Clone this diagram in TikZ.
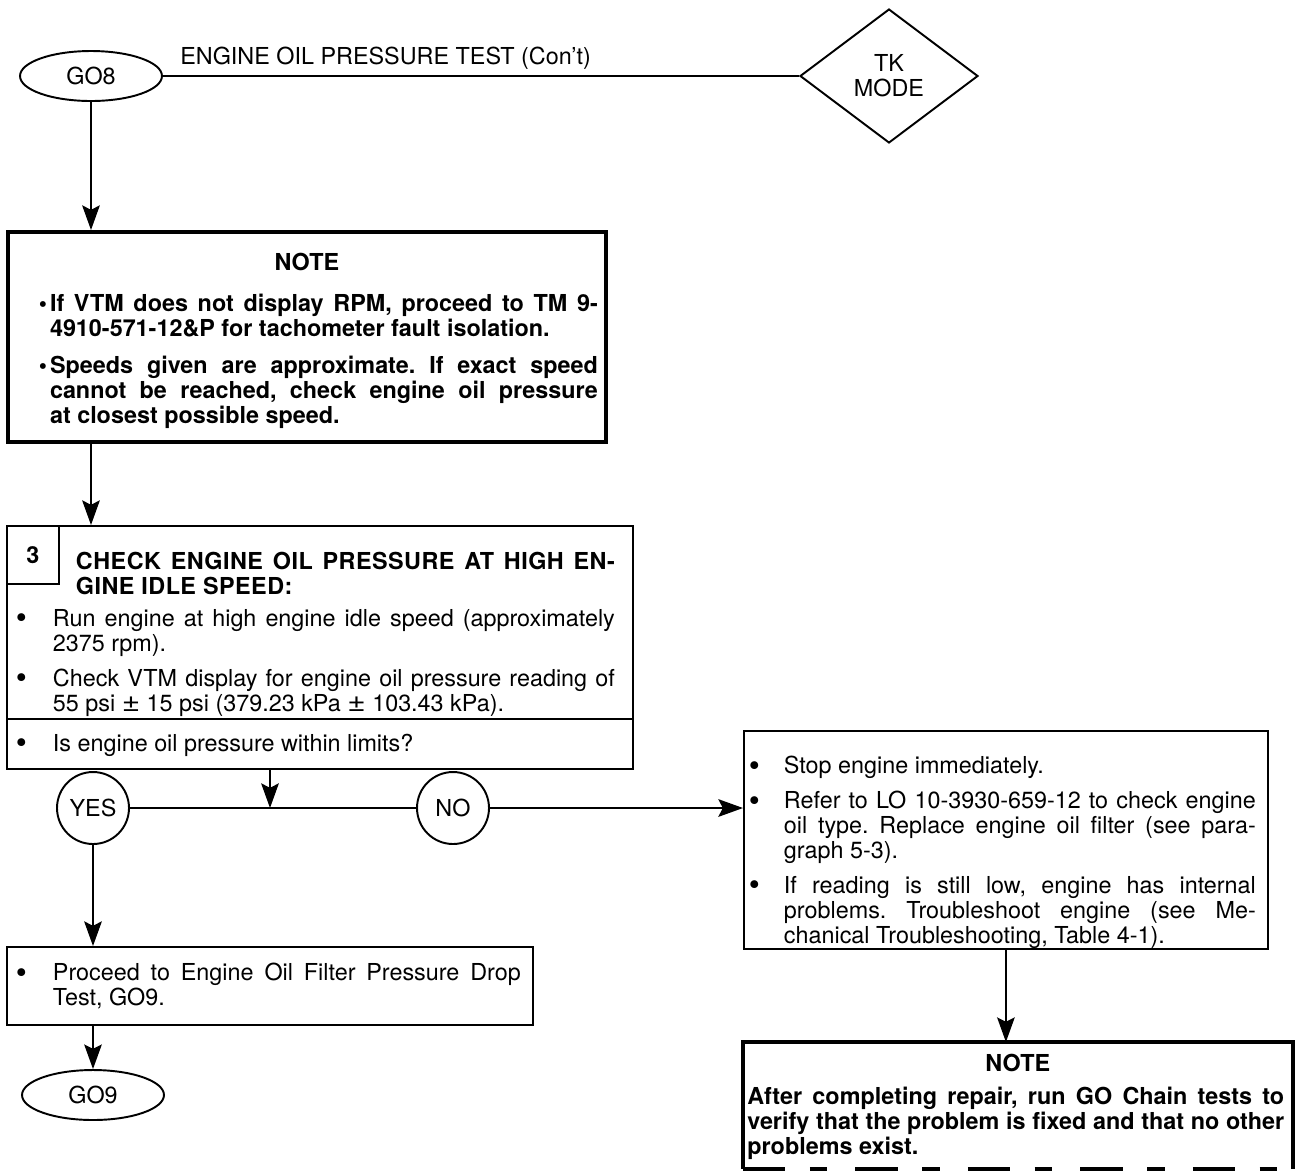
\documentclass[tikz,border=0pt]{standalone}
\usepackage{fontspec}
\usepackage{graphicx}
\setmainfont{TeX Gyre Heros}
\usetikzlibrary{shapes.geometric, arrows.meta, positioning, calc}
\tikzset{
  term/.style={ellipse, draw, line width=1.1pt, minimum width=2.84cm, minimum height=1.0cm, inner sep=0pt},
  answer/.style={circle, draw, line width=1.1pt, minimum size=1.44cm, inner sep=0pt},
  modebox/.style={diamond, draw, line width=1.1pt, minimum width=3.56cm, minimum height=2.68cm,
    inner sep=0pt, align=center},
  notebox/.style={rectangle, draw, line width=2.3pt, inner sep=0pt, anchor=north west},
  stepbox/.style={rectangle, draw, line width=1.1pt, inner sep=0pt, anchor=north west},
  arrow/.style={line width=1.1pt, -{Stealth[length=14pt, width=10pt, inset=2.5pt]}},
  flow/.style={line width=1.1pt},
}
% text block of a box: width, height, content (top aligned)
\newcommand{\boxtext}[3]{\parbox[c][#2][t]{#1}{\parindent=0pt\frenchspacing
  \hyphenpenalty=10000\exhyphenpenalty=10000 #3}}
% bullet hung left of the text column
\newcommand{\bul}[1]{\par\noindent\llap{\textbullet\hspace{#1}}}
\newcommand{\bigbul}[1]{\par\noindent\llap{\raisebox{-0.22ex}{\scalebox{1.35}{\textbullet}}\hspace{#1}}}
\newcommand{\plusminus}{\scalebox{1.35}[1.15]{±}}

\begin{document}
\begin{tikzpicture}[x=0.02cm, y=-0.02cm, font=\fontsize{13.3}{14.2}\selectfont]
  \useasboundingbox (0,0) rectangle (1295,1171);

  % --- Cabecera: GO8 y modo TK ---
  \node (go8)   [term]    at (91,76)  {GO8};
  \node (title) [anchor=base west, inner sep=0pt] at (180,64) {ENGINE OIL PRESSURE TEST (Con't)};
  \node (tk)    [modebox] at (889,76) {TK\\MODE};
  \draw[flow] (go8) -- (tk);

  % --- Nota inicial ---
  \node (note1) [notebox, minimum width=11.96cm, minimum height=4.2cm] at (6,230)
    {\boxtext{11.96cm}{4.2cm}{\bfseries\leftskip=0.84cm \rightskip=0.16cm
      \vspace*{0.42cm}{\centering NOTE\par}
      \vspace{0.32cm}\bul{0.06cm}If VTM does not display RPM, proceed to TM 9-\linebreak
        4910-571-12\&P for tachometer fault isolation.\par
      \vspace{0.24cm}\bul{0.06cm}Speeds given are approximate. If exact speed\linebreak
        cannot be reached, check engine oil pressure\linebreak at closest possible speed.\par}};

  % --- Paso 3 ---
  \node (chk) [stepbox, minimum width=12.52cm, minimum height=3.86cm] at (6,525)
    {\boxtext{12.52cm}{3.86cm}{\vspace*{0.52cm}
      {\bfseries\addfontfeatures{LetterSpace=2}\leftskip=1.38cm \rightskip=0.36cm
        CHECK ENGINE OIL PRESSURE AT HIGH EN-\linebreak GINE IDLE SPEED:\par}
      \leftskip=0.92cm \rightskip=0.36cm
      \vspace{0.14cm}\bigbul{0.52cm}Run engine at high engine idle speed (approximately\linebreak
        2375 rpm).\par
      \vspace{0.2cm}\bigbul{0.52cm}Check VTM display for engine oil pressure reading of\linebreak
        55 psi \plusminus{} 15 psi (379.23 kPa \plusminus{} 103.43 kPa).\par}};
  \node (num) [stepbox, minimum width=1.04cm, minimum height=1.16cm] at (6,525) {\bfseries 3};
  \node (lim) [stepbox, minimum width=12.52cm, minimum height=1.0cm] at (6,718)
    {\boxtext{12.52cm}{1.0cm}{\vspace*{0.3cm}\leftskip=0.92cm \rightskip=0.36cm
      \bigbul{0.52cm}Is engine oil pressure within limits?\par}};

  \draw[arrow] (go8) -- (go8 |- note1.north);
  \draw[arrow] (note1.south -| go8) -- (go8 |- chk.north);

  % --- Decision ---
  \coordinate (split) at (270,808);
  \node (yes) [answer] at (93,808)  {YES};
  \node (no)  [answer] at (453,808) {NO};
  \draw[arrow] (lim.south -| split) -- (split);
  \draw[flow]  (yes) -- (no);

  % --- Rama NO ---
  \node (stop) [stepbox, minimum width=10.48cm, minimum height=4.36cm] at (743,730)
    {\boxtext{10.48cm}{4.36cm}{\leftskip=0.8cm \rightskip=0.24cm
      \vspace*{0.5cm}\bigbul{0.48cm}Stop engine immediately.\par
      \vspace{0.2cm}\bigbul{0.48cm}Refer to LO 10-3930-659-12 to check engine\linebreak
        oil type. Replace engine oil filter (see para-\linebreak graph 5-3).\par
      \vspace{0.2cm}\bigbul{0.48cm}If reading is still low, engine has internal\linebreak
        problems. Troubleshoot engine (see Me-\linebreak
        chanical Troubleshooting, Table 4-1).\par}};
  \draw[arrow] (no) -- (no -| stop.west);

  \node (note2) [rectangle, inner sep=0pt, anchor=north west, minimum width=10.98cm, minimum height=2.52cm] at (743,1042)
    {\boxtext{10.98cm}{2.52cm}{\bfseries\leftskip=0.08cm \rightskip=0.16cm
      \vspace*{0.24cm}{\centering NOTE\par}
      \vspace{0.16cm}After completing repair, run GO Chain tests to\linebreak
        verify that the problem is fixed and that no other\linebreak problems exist.\par}};
  \draw[line width=2.3pt] (note2.south west) -- (note2.north west) -- (note2.north east) -- (note2.south east);
  \draw[line width=2.3pt, dash pattern=on 24pt off 14pt on 10pt off 16pt] (note2.south west) -- (note2.south east);
  \draw[arrow] (stop.south) -- (stop.south |- note2.north);

  % --- Rama YES ---
  \node (proc) [stepbox, minimum width=10.52cm, minimum height=1.56cm] at (6,946)
    {\boxtext{10.52cm}{1.56cm}{\leftskip=0.92cm \rightskip=0.24cm
      \vspace*{0.32cm}\bigbul{0.52cm}Proceed to Engine Oil Filter Pressure Drop\linebreak Test, GO9.\par}};
  \node (go9) [term] at (93,1095) {GO9};
  \draw[arrow] (yes) -- (yes |- proc.north);
  \draw[arrow] (proc.south -| go9) -- (go9);

\end{tikzpicture}
\end{document}
